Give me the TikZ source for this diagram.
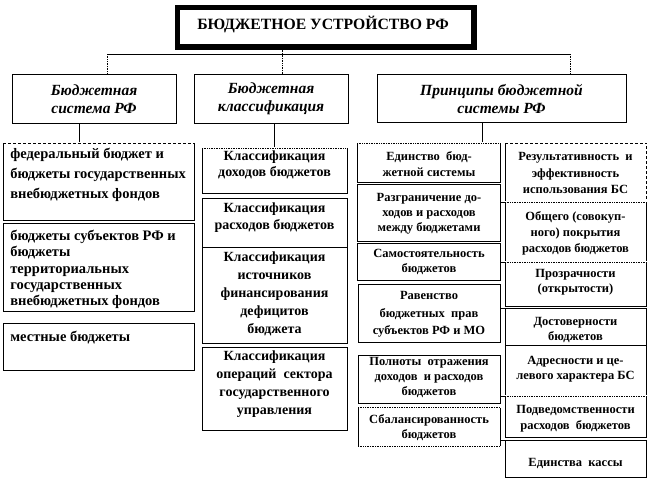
\documentclass[tikz,border=0pt]{standalone}
\usepackage{fontspec}
\setmainfont{Liberation Serif}
\usetikzlibrary{calc}
\begin{document}
\begin{tikzpicture}[x=1pt,y=-1pt,line width=0.7pt,
  frame/.style={draw, line width=0.7pt, inner sep=0pt, anchor=north west},
  sz/.style 2 args={font=\fontsize{#1}{#2}\selectfont\bfseries, inner sep=0pt},
  hd/.style={font=\fontsize{15.5}{18}\selectfont\bfseries\itshape, inner sep=0pt, align=center},
  lt/.style={align=left, anchor=west},
  ct/.style={align=center},
  wipe/.style={draw=white, line width=1.4pt},
  dsh/.style={densely dashed, line width=0.6pt},
  dtt/.style={densely dotted, line width=0.7pt}]
\useasboundingbox (0,0) rectangle (649,480);

% title
\node[draw, line width=5pt, inner sep=0pt, anchor=north west, minimum width=297pt, minimum height=40pt] (title) at (174.5,4.5) {};
\draw ($(title.north west)+(5,5)$) rectangle ($(title.south east)+(-5,-5)$);
\node[sz={15.7}{18}] (ttitle) at (323,24.5) {БЮДЖЕТНОЕ УСТРОЙСТВО РФ};

% headers
\node[frame, minimum width=164pt, minimum height=49pt] (hL) at (12,74) {};
\node[frame, minimum width=154pt, minimum height=49pt] (hM) at (194,74) {};
\node[frame, minimum width=249pt, minimum height=48pt] (hR) at (377,74) {};
\node[hd] (thL) at (94,99) {Бюджетная\\система РФ};
\node[hd] (thM) at (271,99) {Бюджетная\\классификация};
\node[hd] (thR) at (501.5,99) {Принципы бюджетной\\системы РФ};

% connectors from title
\coordinate (cL) at (107,54);
\coordinate (cM) at (282,54);
\coordinate (cR) at (570,54);
\draw (cL) -- (cR);
\draw[dtt] (title.south -| cM) -- (cM |- hM.north);
\draw[dtt] (cL) -- (cL |- hL.north);
\draw[dtt] (cR) -- (cR |- hR.north);

% left column
\node[frame, minimum width=191pt, minimum height=77pt] (L1) at (3,143) {};
\node[frame, minimum width=191pt, minimum height=88pt] (L2) at (3,223) {};
\node[frame, minimum width=191pt, minimum height=47pt] (L3) at (3,323) {};
\node[sz={14.5}{20}, lt] (tL1) at (10,175) {федеральный бюджет и\\бюджеты государственных\\внебюджетных фондов};
\node[sz={14.5}{16.3}, lt] (tL2) at (10,269.5) {бюджеты субъектов РФ и\\бюджеты\\территориальных\\государственных\\внебюджетных фондов};
\node[sz={14.5}{17}, lt] (tL3) at (10,338) {местные бюджеты};

% middle column
\node[frame, minimum width=145pt, minimum height=45pt] (M1) at (202,148) {};
\node[frame, minimum width=145pt, minimum height=49pt] (M2) at (202,198) {};
\node[frame, minimum width=145pt, minimum height=96pt] (M3) at (202,247) {};
\node[frame, minimum width=145pt, minimum height=83pt] (M4) at (202,347) {};
\node[sz={14}{16}, ct] (tM1) at (274.5,165) {Классификация\\доходов бюджетов};
\node[sz={14}{17}, ct] (tM2) at (274.5,218) {Классификация\\расходов бюджетов};
\node[sz={14}{18}, ct] (tM3) at (274.5,294) {Классификация\\источников\\финансирования\\дефицитов\\бюджета};
\node[sz={14}{18}, ct] (tM4) at (274.5,384) {Классификация\\операций\ \ сектора\\государственного\\управления};

% principles, first sub-column
\node[frame, minimum width=143pt, minimum height=39pt] (A1) at (357,143) {};
\node[frame, minimum width=143pt, minimum height=57pt] (A2) at (357,184) {};
\node[frame, minimum width=143pt, minimum height=37pt] (A3) at (357,243) {};
\node[frame, minimum width=142pt, minimum height=58pt] (A4) at (358,284) {};
\node[frame, minimum width=142pt, minimum height=48pt] (A5) at (358,355) {};
\node[frame, minimum width=142pt, minimum height=39pt] (A6) at (358,407) {};
\node[sz={12.5}{16}, ct] (tA1) at (429,164.5) {Единство\ \ бюд-\\жетной системы};
\node[sz={12.5}{15}, ct] (tA2) at (429,214) {Разграничение до-\\ходов и расходов\\между бюджетами};
\node[sz={12.5}{15}, ct] (tA3) at (429,262) {Самостоятельность\\бюджетов};
\node[sz={12.5}{17.5}, ct] (tA4) at (429,314.5) {Равенство\\бюджетных\ \ прав\\субъектов РФ и МО};
\node[sz={12.5}{15}, ct] (tA5) at (429,377) {Полноты\ \ отражения\\доходов\ \ и расходов\\бюджетов};
\node[sz={12.5}{15}, ct] (tA6) at (429,427.5) {Сбалансированность\\бюджетов};

% principles, second sub-column
\node[frame, minimum width=141pt, minimum height=59pt] (B1) at (505,143) {};
\node[frame, minimum width=141pt, minimum height=60pt] (B2) at (505,202) {};
\node[frame, minimum width=141pt, minimum height=44pt] (B3) at (505,262) {};
\node[frame, minimum width=141pt, minimum height=37pt] (B4) at (505,308) {};
\node[frame, minimum width=141pt, minimum height=50pt] (B5) at (505,345) {};
\node[frame, minimum width=141pt, minimum height=41pt] (B6) at (505,396) {};
\node[frame, minimum width=141pt, minimum height=37pt] (B7) at (505,440) {};
\node[sz={12.5}{16.5}, ct] (tB1) at (575.5,173) {Результативность\ \ и\\эффективность\\использования БС};
\node[sz={12.5}{16}, ct] (tB2) at (575.5,233) {Общего (совокуп-\\ного) покрытия\\расходов бюджетов};
\node[sz={12.5}{15}, ct] (tB3) at (575.5,282) {Прозрачности\\(открытости)};
\node[sz={12.5}{15}, ct] (tB4) at (575.5,330) {Достоверности\\бюджетов};
\node[sz={12.5}{15}, ct] (tB5) at (575.5,369.5) {Адресности и це-\\левого характера БС};
\node[sz={12.5}{16}, ct] (tB6) at (575.5,418.5) {Подведомственности\\расходов\ \ бюджетов};
\node[sz={12.5}{15}, ct] (tB7) at (575.5,463) {Единства\ \ кассы};

% connectors from headers
\coordinate (dL) at (79,130);
\coordinate (dM) at (274,130);
\coordinate (dR) at (482,130);
\draw (hL.south -| dL) -- (L1.north -| dL);
\draw (hM.south -| dM) -- (M1.north -| dM);
\draw (hR.south -| dR) -- (A1.north -| dR);

% short stubs between the two sub-columns
\draw (A1.east |- B2.north west) -- (B2.north west);
\draw (A1.east |- B3.north west) -- (B3.north west);
\draw (A1.east |- B4.north west) -- (B4.north west);
\draw (A1.east |- B6.north west) -- (B6.north west);
\draw (A1.east |- B7.north west) -- (B7.north west);

% broken edges as in the reference
\draw[wipe] (L1.north west) -- (L1.north east);
\draw[dsh] (L1.north west) -- (L1.north east);
\draw[wipe] (M1.north west) -- (M1.north east);
\draw[dtt] (M1.north west) -- (M1.north east);
\draw[wipe] (A1.north west) -- (A1.north east);
\draw[dtt] (A1.north west) -- (A1.north east);
\draw[wipe] (B1.north west) -- (B1.north east) -- (B1.south east);
\draw[dsh] (B1.north west) -- (B1.north east) -- (B1.south east);
\draw[wipe] (B2.north west) -- (B2.north east);
\draw[dtt] (B2.north west) -- (B2.north east);
\draw[wipe] (B3.north west) -- (B3.north east);
\draw[dtt] (B3.north west) -- (B3.north east);
\draw[wipe] (B6.north west) -- (B6.north east);
\draw[dtt] (B6.north west) -- (B6.north east);
\draw[wipe] (A6.north west) -- (A6.north east);
\draw[dtt] (A6.north west) -- (A6.north east);
\draw[wipe] (A6.south west) -- (A6.south east);
\draw[dtt] (A6.south west) -- (A6.south east);
\end{tikzpicture}
\end{document}
